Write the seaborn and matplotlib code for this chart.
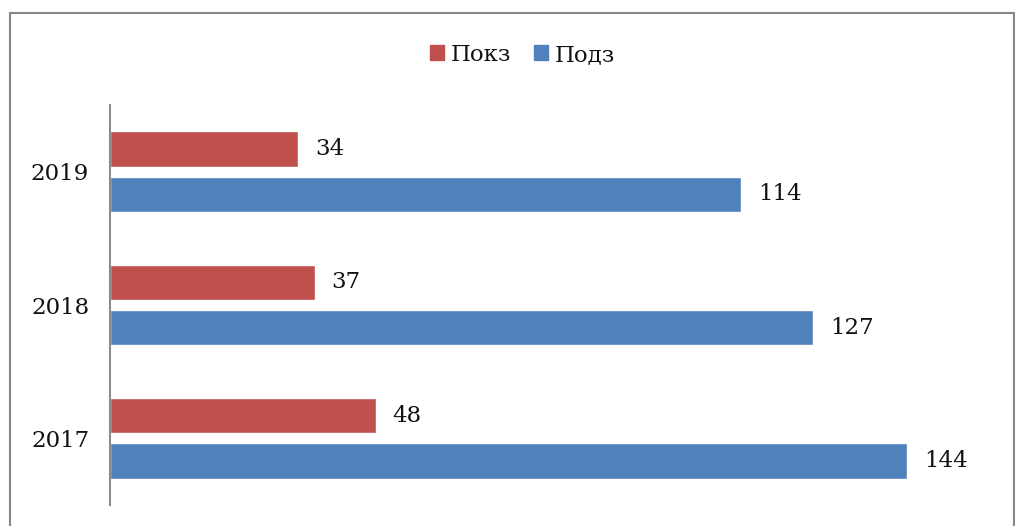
import matplotlib
matplotlib.use("Agg")
import matplotlib.pyplot as plt
import matplotlib.patches as mpatches
import seaborn as sns
import pandas as pd

years = ["2019", "2018", "2017"]
series_names = ["Покз", "Подз"]
pokz = [34, 37, 48]
podz = [114, 127, 144]
colors = ["#C0504D", "#4F81BD"]

df = pd.DataFrame({
    "year": years * 2,
    "series": [series_names[0]] * 3 + [series_names[1]] * 3,
    "value": pokz + podz,
})

sns.set_theme(style="white")
plt.rcParams["font.family"] = ["DejaVu Serif"]

fig = plt.figure(figsize=(10.15, 5.26), dpi=100)
ax = fig.add_axes([110 / 1015, 21 / 526, 886 / 1015, 400 / 526])

sns.barplot(
    data=df, x="value", y="year", hue="series", orient="h",
    order=years, hue_order=series_names, palette=colors,
    width=0.677, gap=0.22, ax=ax, legend=False, saturation=1,
)

for cont in ax.containers:
    labels = ax.bar_label(cont, padding=12, fontsize=16.5, color="#111111")
    for t in labels:
        t.set_va("center")
        t.set_y(t.get_position()[1])

ax.set_xlim(0, 160)
ax.set_xlabel("")
ax.set_ylabel("")
ax.set_xticks([])
ax.tick_params(axis="y", length=0, pad=15, labelsize=16.5, labelcolor="#111111")
for side in ["top", "right", "bottom"]:
    ax.spines[side].set_visible(False)
ax.spines["left"].set_color("#8c8c8c")
ax.spines["left"].set_linewidth(1.5)

handles = [mpatches.Patch(color=c, label=n) for c, n in zip(colors, series_names)]
fig.legend(
    handles=handles, loc="center", bbox_to_anchor=(0.515, 0.896), ncol=2,
    frameon=False, fontsize=16.5, handlelength=0.6, handleheight=0.6,
    handletextpad=0.3, columnspacing=1.0, labelcolor="#111111",
)

frame = mpatches.Rectangle(
    (10 / 1015, -0.05), 1004 / 1015, 1.05 - 13 / 526,
    transform=fig.transFigure, fill=False, edgecolor="#868686", linewidth=1.5,
)
fig.patches.append(frame)

fig.savefig("out.png", dpi=100)
